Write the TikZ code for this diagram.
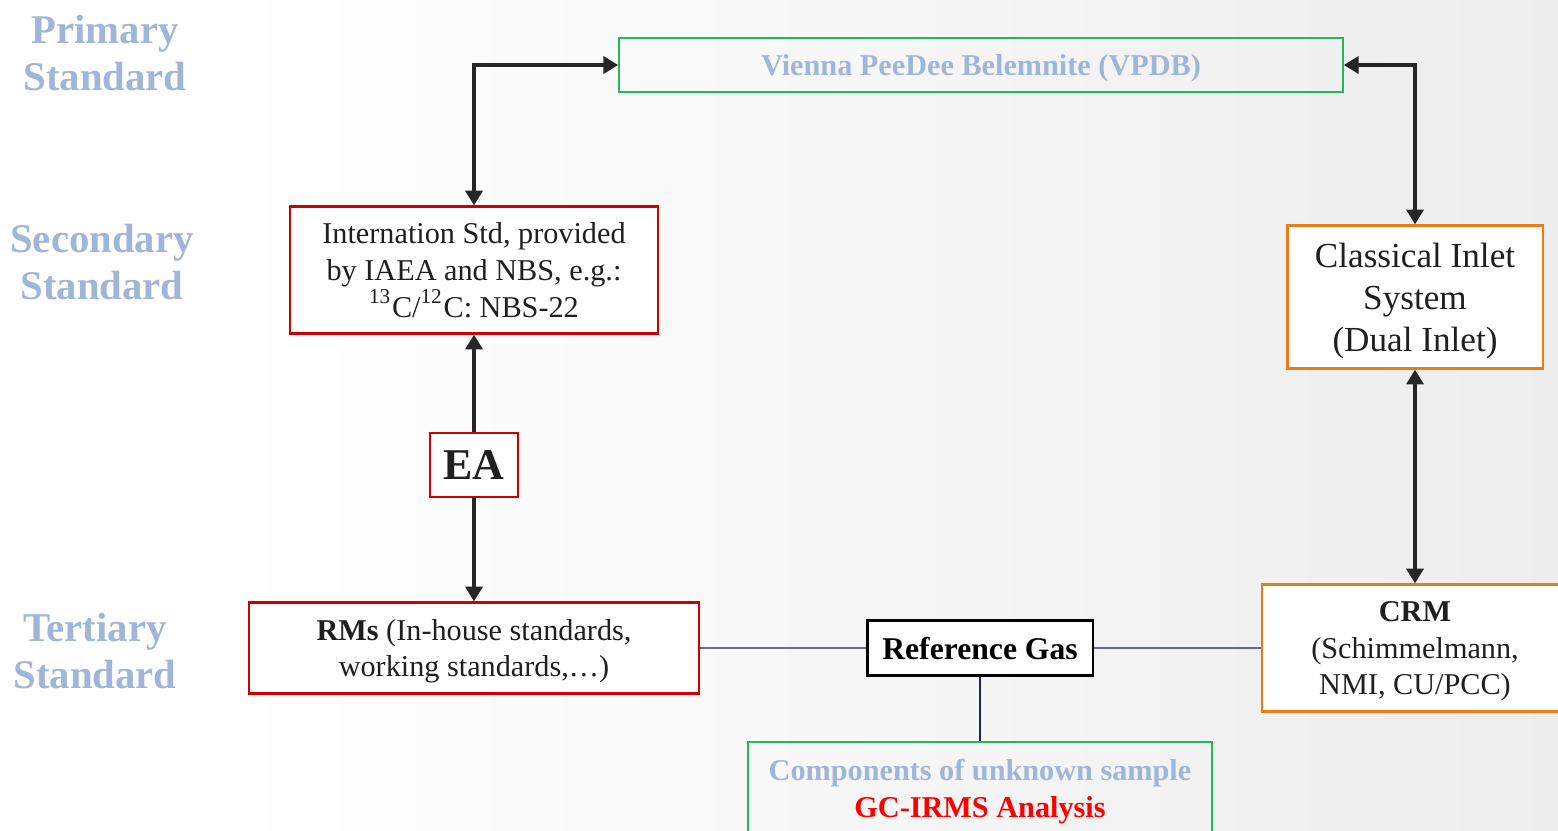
\documentclass[tikz,border=0pt]{standalone}
\usepackage{fontspec}
\setmainfont{Liberation Serif}
\usetikzlibrary{arrows.meta}

\definecolor{stdblue}{RGB}{160,182,216}
\definecolor{boxgreen}{RGB}{34,185,90}
\definecolor{boxred}{RGB}{204,0,0}
\definecolor{boxorange}{RGB}{236,122,22}
\definecolor{arrowdark}{RGB}{38,38,38}
\definecolor{gcred}{RGB}{255,0,0}
\definecolor{linkgray}{RGB}{110,110,120}
\definecolor{linkpurple}{RGB}{100,100,160}
\definecolor{linknavy}{RGB}{30,30,110}

\def\bodyFont{\fontsize{8.6}{10.5}\selectfont}

\tikzset{
    stdlabel/.style = {align=center, text=stdblue,
        font=\fontsize{11.6}{13.4}\selectfont\bfseries},
    stdbox/.style = {draw, line width=0.6pt, align=center, inner sep=2pt,
        font=\bodyFont, text=black!88},
    redbox/.style = {stdbox, draw=boxred, fill=white},
    orangebox/.style = {stdbox, draw=boxorange, fill=white},
    greenbox/.style = {stdbox, draw=boxgreen},
    blackbox/.style = {stdbox, draw=black, fill=white},
    thickarrow/.style = {draw=arrowdark, line width=1.4pt,
        >={Triangle[length=4.2pt,width=4.8pt]}},
    thinline/.style = {line width=0.5pt},
}

\begin{document}
\begin{tikzpicture}[x=0.01cm, y=-0.01cm]
            \useasboundingbox (0,0) rectangle (1558,830);
            \clip (0,0) rectangle (1558,830);
            \fill [white] (0,0) rectangle (1558,830);
            \shade [left color=white, right color=black!7]
            (230,0) rectangle (1558,830);

            \node [stdlabel] (primary) at (105,53) {Primary\\Standard};
            \node [stdlabel] (secondary) at (102,262) {Secondary\\Standard};
            \node [stdlabel] (tertiary) at (95,651) {Tertiary\\Standard};

            \node [greenbox, minimum width=7.23cm, minimum height=0.54cm,
                text=stdblue, font=\bodyFont\bfseries, text depth=0pt]
            (vpdb) at (981,65) {Vienna PeeDee Belemnite (VPDB)};

            \node [redbox, minimum width=3.68cm, minimum height=1.27cm]
            (intl) at (474,270)
            {Internation Std, provided\\by IAEA and NBS, e.g.:\\
             \textsuperscript{13}C/\textsuperscript{12}C: NBS-22};

            \node [redbox, minimum width=0.88cm, minimum height=0.64cm,
                font=\fontsize{12.5}{14}\selectfont\bfseries]
            (ea) at (474,465) {EA};

            \node [redbox, minimum width=4.49cm, minimum height=0.91cm,
                text depth=0pt]
            (rms) at (474,648)
            {\textbf{RMs} (In-house standards,\\working standards,\dots)};

            \node [blackbox, minimum width=2.25cm, minimum height=0.55cm,
                font=\fontsize{9}{11}\selectfont\bfseries, text=black]
            (refgas) at (980,648) {Reference Gas};

            \node [greenbox, anchor=north, minimum width=4.64cm,
                minimum height=0.92cm, font=\bodyFont\bfseries, text depth=0pt]
            (comp) at (980,741)
            {\textcolor{stdblue}{Components of unknown sample}\\
             \textcolor{gcred}{GC-IRMS Analysis}};

            \node [orangebox, minimum width=2.55cm, minimum height=1.43cm,
                font=\fontsize{10}{12}\selectfont, text depth=0pt]
            (cis) at (1415,297) {Classical Inlet\\System\\(Dual Inlet)};

            \node [orangebox, minimum width=3.06cm, minimum height=1.27cm,
                text depth=0pt]
            (crm) at (1415,648)
            {\textbf{CRM}\\(Schimmelmann,\\NMI, CU/PCC)};

            \draw [thickarrow, <->] (intl.north) |- (vpdb.west);
            \draw [thickarrow, <->] (vpdb.east) -| (cis.north);
            \draw [thickarrow, <-] (intl.south) -- (ea.north);
            \draw [thickarrow, ->] (ea.south) -- (rms.north);
            \draw [thickarrow, <->] (cis.south) -- (crm.north);

            \draw [thinline, draw=linkgray] (rms.east) -- (refgas.west);
            \draw [thinline, draw=linkpurple] (refgas.east) -- (crm.west);
            \draw [thinline, draw=linknavy] (refgas.south) -- (comp.north);
        \end{tikzpicture}
\end{document}
